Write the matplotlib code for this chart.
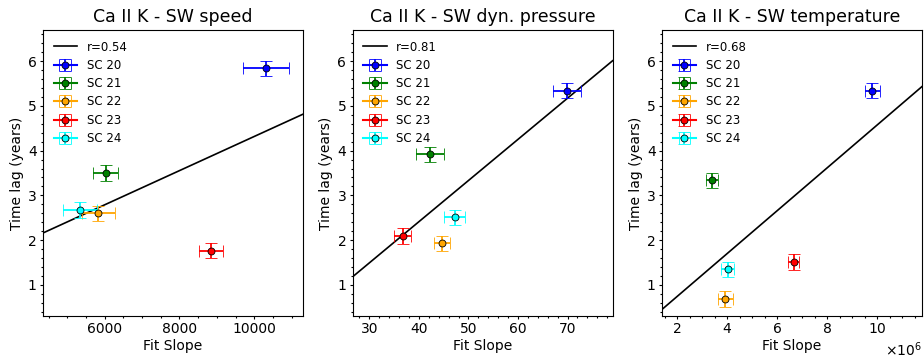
"""
Time lag vs fit slope for Ca II K against solar wind parameters
"""
import numpy as np
import matplotlib
matplotlib.use('Agg')
import matplotlib.pyplot as plt
from matplotlib.ticker import ScalarFormatter


cycles = ['SC 20', 'SC 21', 'SC 22', 'SC 23', 'SC 24']
colors = ['blue', 'green', 'orange', 'red', 'cyan']

titles = ['Ca II K - SW speed', 'Ca II K - SW dyn. pressure', 'Ca II K - SW temperature']
r_values = [0.54, 0.81, 0.68]

# SW speed
speed_slope = [10320, 6027, 5830, 8840, 5333]
speed_slope_err = [613, 340, 435, 315, 460]
speed_lag = [5.84, 3.50, 2.60, 1.76, 2.67]

# SW dynamic pressure
press_slope = [69.9, 42.2, 44.6, 36.7, 47.2]
press_slope_err = [2.8, 2.8, 1.6, 1.8, 2.2]
press_lag = [5.34, 3.92, 1.93, 2.09, 2.51]

# SW temperature
temp_slope = [9.79e6, 3.39e6, 3.92e6, 6.66e6, 4.02e6]
temp_slope_err = [0.30e6, 0.24e6, 0.30e6, 0.21e6, 0.26e6]
temp_lag = [5.34, 3.34, 0.68, 1.51, 1.35]

lag_err = [0.17, 0.17, 0.17, 0.17, 0.17]

x_limits = [(4347, 11307), (26.6, 79.1), (1.40e6, 11.79e6)]
y_limits = (0.3, 6.7)


class FixedOrderFormatter(ScalarFormatter):
    # always show x10^6 like the original
    def __init__(self, order):
        self._order = order
        super().__init__(useMathText=True)

    def _set_order_of_magnitude(self):
        self.orderOfMagnitude = self._order


def draw_panel(ax, slope, slope_err, lag, title, r, xlim, sci=False):
    fit = np.polyfit(slope, lag, 1)
    xs = np.array(xlim)
    ax.plot(xs, np.polyval(fit, xs), color='black', linewidth=1.2, label='r={:.2f}'.format(r))
    for i, cyc in enumerate(cycles):
        ax.errorbar(slope[i], lag[i], xerr=slope_err[i], yerr=lag_err[i], marker='o',
                    color=colors[i], markerfacecolor=colors[i], markeredgecolor='black',
                    markersize=5, capsize=4, elinewidth=1.3, markeredgewidth=0.6,
                    label=cyc)
    ax.set_xlim(xlim)
    ax.set_ylim(y_limits)
    ax.minorticks_on()
    if sci:
        ax.xaxis.set_major_formatter(FixedOrderFormatter(6))
    ax.tick_params(which='major', length=2.5, width=0.8, pad=2, labelsize=10)
    ax.tick_params(which='minor', length=1.5, width=0.8)
    ax.set_title(title, fontsize=12.5)
    ax.set_xlabel('Fit Slope', fontsize=10, labelpad=2)
    ax.set_ylabel('Time lag (years)', fontsize=10, labelpad=3)
    ax.legend(loc='upper left', frameon=False, fontsize=8.5, labelspacing=0.45)


def main():
    fig, axes = plt.subplots(1, 3, figsize=(9.24, 3.6), dpi=100)
    fig.subplots_adjust(left=0.0465, right=0.998, top=0.917, bottom=0.122, wspace=0.19)
    data = [
        (speed_slope, speed_slope_err, speed_lag),
        (press_slope, press_slope_err, press_lag),
        (temp_slope, temp_slope_err, temp_lag),
    ]
    for k, ax in enumerate(axes):
        slope, slope_err, lag = data[k]
        draw_panel(ax, slope, slope_err, lag, titles[k], r_values[k], x_limits[k], sci=(k == 2))
    plt.savefig('out.png', dpi=100)
    plt.close()


if __name__ == '__main__':
    main()
